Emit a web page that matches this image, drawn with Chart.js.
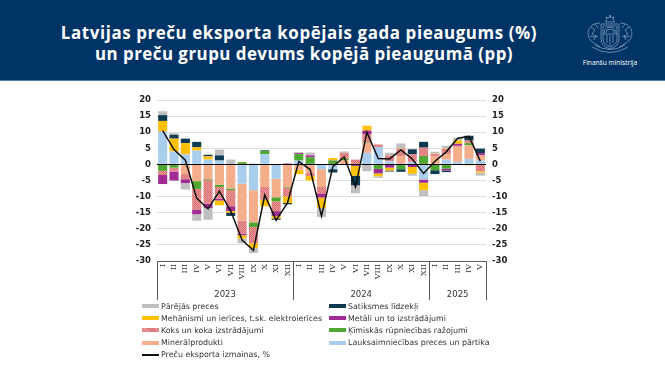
<!DOCTYPE html>
<html lang="lv">
<head>
<meta charset="utf-8">
<title>Latvijas preču eksports</title>
<script src="https://cdn.jsdelivr.net/npm/chart.js@4"></script>
<style>
    html, body { margin: 0; padding: 0; background: #fff; }
    #page { position: relative; width: 665px; height: 375px; overflow: hidden; font-family: "DejaVu Sans", sans-serif; }
    #header { position: absolute; left: 0; top: 0; width: 665px; height: 80px; background: #003467; border-bottom: 1px solid #4f7bab; }
    #title { position: absolute; left: 0; top: 22px; width: 598px; text-align: center; color: #fff; font: bold 16.9px/21px "Open Sans", sans-serif; letter-spacing: 0.6px; }
    #title span { position: relative; left: 5px; letter-spacing: 0.48px; }
    #emblem { position: absolute; left: 584px; top: 14px; }
    #ministry { position: absolute; left: 570px; top: 58px; width: 80px; text-align: center; color: #fff; font: 6.6px "Open Sans", sans-serif; }
    #chartWrap { position: absolute; left: 0; top: 0; width: 665px; height: 375px; }
    #legend { position: absolute; left: 142px; top: 300px; display: grid; grid-template-columns: 187px 170px; grid-auto-rows: 12.2px; font-size: 7.9px; color: #333; white-space: nowrap; }
    #legend div { display: flex; align-items: center; }
    #legend i { display: inline-block; width: 17px; margin-right: 2px; }
</style>
</head>
<body>
<div id="page">
    <div id="chartWrap"><canvas id="exportChart" width="665" height="375"></canvas></div>
    <div id="header">
        <div id="title">Latvijas preču eksporta kopējais gada pieaugums (%)<br><span>un preču grupu devums kopējā pieaugumā (pp)</span></div>
        <svg id="emblem" width="52" height="41" viewBox="0 0 52 41" fill="none" stroke="#a9bdd4" stroke-width="0.6">
            <path d="M17 10 h18 v15 q0 7 -9 10 q-9 -3 -9 -10 z"/>
            <path d="M19 12 h14 v13 q0 5 -7 8 q-7 -3 -7 -8 z"/>
            <path d="M20 19 a6 6 0 0 1 12 0 M22 19 a4 4 0 0 1 8 0 M19 20 h14 M23 21 v8 M29 21 v8 M26 21 v11"/>
            <path d="M26 1 l1 3 l3 -1 l-1 3 l2 2 h-10 l2 -2 l-1 -3 l3 1 z"/>
            <path d="M16 9 q-10 0 -12 9 q0 8 6 11 l6 4 M36 9 q10 0 12 9 q0 8 -6 11 l-6 4"/>
            <path d="M7 13 l4 3 l-3 4 l4 2 l-2 4 M45 13 l-4 3 l3 4 l-4 2 l2 4 M11 10 l3 4 M41 10 l-3 4"/>
            <path d="M8 33 q18 11 36 0 M11 31 q15 9 30 0 M6 22 q4 2 8 0 M38 22 q4 2 8 0"/>
        </svg>
        <div id="ministry">Finanšu ministrija</div>
    </div>
    <div id="legend"></div>
</div>
<script>
const months = ['I', 'II', 'III', 'IV', 'V', 'VI', 'VII', 'VIII', 'IX', 'X', 'XI', 'XII',
    'I', 'II', 'III', 'IV', 'V', 'VI', 'VII', 'VIII', 'IX', 'X', 'XI', 'XII',
    'I', 'II', 'III', 'IV', 'V'];
const years = ['2023', '2024', '2025'];
const monthsInYear = [12, 12, 5];

const food = [10.2, 4, 3.1, 4.3, 1.5, 1.2, 0, -6, -8, 3.2, -4.5, 0, 1.2, 0, -1.5, -1.5, -0.1, -0.2, 3.6, 5.4, 1, 0, 0.8, -4.7, 0, 1.5, 0.8, 1.7, 1.2];
const mineral = [0, 0, -3, -5.2, -4.6, -6.3, -7.5, -11.5, -10, -7, -5.7, -7, -1.8, -2.6, -5.5, 0, 1.2, 0, 2.9, 0, 0, 2.6, 0, 0, 2.4, 1.7, 4.5, 4.2, 1.6];
const chemical = [-2, -1, 0, -2.4, -0.3, -0.7, -0.5, 0.7, -1.4, 1, -1.3, -0.2, 2, 2.2, 0, 1.2, 0.5, 0, 0.2, -1.4, 0, -1.5, 0, 2.6, -1.8, -1.3, 0.1, 0.7, 0];
const wood = [-1.3, -1.2, -1.6, -6.4, -7.3, -3.6, -5, -4, -5.1, -4, -3, -2.8, 0, -1, -2, 0.2, 1.9, 1.5, 2.6, 0.8, 1.8, 2.3, 2.3, 2.6, 0.8, 1.6, 0.4, 0.8, -2.2];
const metals = [-2.8, -2.8, -1.2, -1.5, -1.3, -0.6, -1.5, -0.5, 0, 0, -1.5, 0.3, 0.3, 0.6, -1.3, 0, 0, -0.3, 1.2, -1.4, -1, 0, -0.8, -1, 0, -0.6, 0.6, 0, 0.7];
const machinery = [3.3, 4, 3.5, 1, 1, -1.5, -0.5, -1, -1.5, -2, -0.8, -2, -1.2, -1.4, -3.2, 0.6, 0, -3, 1.5, -0.9, -0.9, 0.1, -2.1, -2.3, 0.1, 0.1, 1, -0.3, -0.4];
const transport = [1.8, 1.2, 1.4, 1.7, 0.5, 1.6, -1, 0, 0.2, 0.2, -0.4, -0.4, 0, 0, 0, -1, 0, -3, 0, 0, -0.3, -0.8, 1.6, 1.8, -1.2, -0.5, 0, 1.5, 1.4];
const other = [1.2, 0.5, -2, -2, -3.7, 1.8, 1.5, -1.5, -1.5, 0, 0, 0, 0.3, 0.9, -2.8, 0, 0.4, -2.5, -2.1, -0.5, 0.8, 1.5, -0.6, -1.8, 0.6, 0.9, 0.9, 0, -0.9];
const totalChange = [10.5, 4.6, 1.3, -10.5, -13.8, -8.3, -14.5, -23.5, -26.7, -9.5, -17.3, -12, 0.9, -1.6, -16, -0.7, 2.3, -7, 10, 1.8, 1.7, 4.5, 1.7, -2.8, 1, 3.9, 8.1, 8.7, 1];

const yTicks = [-30, -25, -20, -15, -10, -5, 0, 5, 10, 15, 20];

// red dotted fill for the wood series
function hatchPattern() {
    const c = document.createElement('canvas');
    c.width = 2;
    c.height = 2;
    const x = c.getContext('2d');
    x.fillStyle = '#ea9c96';
    x.fillRect(0, 0, 2, 2);
    x.fillStyle = '#d96c72';
    x.fillRect(0, 0, 1, 1);
    x.fillRect(1, 1, 1, 1);
    return x.createPattern(c, 'repeat');
}

function barSet(label, data, color) {
    return { type: 'bar', label: label, data: data, backgroundColor: color, barPercentage: 0.8, categoryPercentage: 1, order: 2 };
}

const ctx = document.getElementById('exportChart');

// year separators, year names and the black zero line
const axisExtras = {
    id: 'axisExtras',
    afterDatasetsDraw(chart) {
        const c = chart.ctx;
        const area = chart.chartArea;
        const xs = chart.scales.x;
        const zero = Math.round(chart.scales.y.getPixelForValue(0)) + 0.5;
        c.save();
        c.strokeStyle = '#000';
        c.lineWidth = 1;
        c.beginPath();
        c.moveTo(area.left, zero);
        c.lineTo(area.right, zero);
        c.stroke();
        c.strokeStyle = '#595959';
        c.fillStyle = '#333';
        c.font = '8.5px "DejaVu Sans"';
        c.textAlign = 'center';
        c.textBaseline = 'middle';
        let start = 0;
        const step = area.width / months.length;
        for (let i = 0; i <= years.length; i++) {
            const px = Math.round(xs.getPixelForValue(start) - step / 2) + 0.5;
            c.beginPath();
            c.moveTo(px, area.bottom);
            c.lineTo(px, 300);
            c.stroke();
            if (i < years.length) {
                const mid = xs.getPixelForValue(start) - step / 2 + monthsInYear[i] * step / 2;
                c.fillText(years[i], mid, 295);
                start += monthsInYear[i];
            }
        }
        c.restore();
    }
};

const barDatasets = [
    barSet('Lauksaimniecības preces un pārtika', food, '#a9cdec'),
    barSet('Minerālprodukti', mineral, '#f4ae8a'),
    barSet('Ķīmiskās rūpniecības ražojumi', chemical, '#4ea72e'),
    barSet('Koks un koka izstrādājumi', wood, hatchPattern()),
    barSet('Metāli un to izstrādājumi', metals, '#a02b93'),
    barSet('Mehānismi un ierīces, t.sk. elektroierīces', machinery, '#ffc000'),
    barSet('Satiksmes līdzekļi', transport, '#0e3a52'),
    barSet('Pārējās preces', other, '#bfbfbf')
];

new Chart(ctx, {
    data: {
        labels: months,
        datasets: barDatasets.concat([{
            type: 'line',
            label: 'Preču eksporta izmaiņas, %',
            data: totalChange,
            borderColor: '#111',
            backgroundColor: '#111',
            borderWidth: 1.5,
            pointRadius: 0,
            tension: 0,
            order: 1
        }])
    },
    options: {
        responsive: false,
        animation: false,
        layout: { padding: { top: 100 } },
        plugins: { legend: { display: false }, title: { display: false }, tooltip: { enabled: false } },
        scales: {
            x: {
                stacked: true,
                grid: { display: false, drawTicks: false },
                border: { color: '#595959' },
                afterFit(scale) { scale.height = 114; },
                ticks: { autoSkip: false, minRotation: 90, maxRotation: 90, padding: 3, color: '#333', font: { family: 'DejaVu Serif', size: 8 } }
            },
            y: {
                stacked: true,
                min: -30,
                max: 20,
                afterFit(scale) { scale.width = 157; },
                afterBuildTicks(scale) { scale.ticks = yTicks.map(v => ({ value: v })); },
                grid: { color: '#dedede', drawTicks: false },
                border: { display: false },
                ticks: { padding: 6, color: '#222', font: { family: 'DejaVu Sans', size: 8.5, weight: 'bold' } }
            },
            y2: {
                position: 'right',
                min: -30,
                max: 20,
                afterFit(scale) { scale.width = 179; },
                afterBuildTicks(scale) { scale.ticks = yTicks.map(v => ({ value: v })); },
                grid: { display: false, drawTicks: false },
                border: { display: false },
                ticks: { padding: 6, color: '#222', font: { family: 'DejaVu Sans', size: 8.5, weight: 'bold' } }
            }
        }
    },
    plugins: [axisExtras]
});

// legend runs from the top of the stack down, in two columns
const legendBox = document.getElementById('legend');
const legendColors = {
    'Koks un koka izstrādājumi': 'repeating-linear-gradient(45deg, #ea9c96 0 1px, #d96c72 1px 2px)'
};
barDatasets.slice().reverse().forEach(function (ds) {
    const row = document.createElement('div');
    const bg = legendColors[ds.label] || ds.backgroundColor;
    row.innerHTML = '<i style="height:4px;background:' + bg + '"></i>' + ds.label;
    legendBox.appendChild(row);
});
const lineRow = document.createElement('div');
lineRow.innerHTML = '<i style="height:1.5px;background:#111"></i>Preču eksporta izmaiņas, %';
legendBox.appendChild(lineRow);
</script>
</body>
</html>
